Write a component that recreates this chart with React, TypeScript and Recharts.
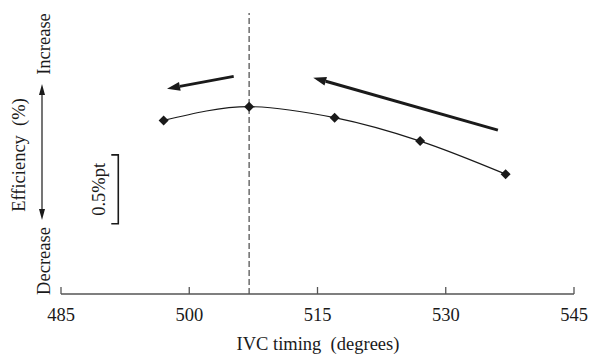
import React from 'react';
import { LineChart, Line, XAxis, YAxis, ReferenceLine } from 'recharts';

// IVC timing sweep, efficiency change relative to the best point (%pt)
const ivcTiming = [497, 507, 517, 527, 537];
const efficiencyDelta = [-0.1, 0, -0.08, -0.25, -0.49];
const xTicks = [485, 500, 515, 530, 545];
const bestTiming = 507;
const scaleBarSize = 0.5;

const data = ivcTiming.map((t, i) => ({ t, eff: efficiencyDelta[i] }));

const FONT = '"Liberation Serif", "Times New Roman", serif';
const FS = 18.5;
const INK = '#1a1a1a';
const AXIS = '#555';

const Diamond = (props: any) => {
  const { cx, cy } = props;
  if (cx == null || cy == null) return null;
  const r = 5;
  return <polygon points={`${cx},${cy - r} ${cx + r},${cy} ${cx},${cy + r} ${cx - r},${cy}`} fill={INK} />;
};

const BottomTick = (props: any) => {
  const { x, y, payload } = props;
  return (
    <g>
      <line x1={x} y1={y} x2={x} y2={y - 7} stroke={AXIS} strokeWidth={1.3} />
      <text x={x} y={y + 27} textAnchor="middle" fontFamily={FONT} fontSize={FS} fill={INK}>
        {payload.value}
      </text>
    </g>
  );
};

// thick trend arrow, head drawn at the second point of the segment
const TrendArrow = (p: any) => {
  const x1 = +p.x1, y1 = +p.y1, x2 = +p.x2, y2 = +p.y2;
  const len = Math.hypot(x2 - x1, y2 - y1) || 1;
  const ux = (x2 - x1) / len, uy = (y2 - y1) / len;
  const head = 13, half = 4.5;
  const bx = x2 - ux * head, by = y2 - uy * head;
  return (
    <g>
      <line x1={x1} y1={y1} x2={bx} y2={by} stroke={INK} strokeWidth={3} />
      <polygon
        points={`${x2},${y2} ${bx - uy * half},${by + ux * half} ${bx + uy * half},${by - ux * half}`}
        fill={INK}
      />
    </g>
  );
};

// vertical scale bracket with its label
const ScaleBar = (p: any) => {
  const x = +p.x1, ya = +p.y1, yb = +p.y2;
  const top = Math.min(ya, yb), bottom = Math.max(ya, yb);
  return (
    <g>
      <path d={`M${x - 7},${top} H${x} V${bottom} H${x - 7}`} fill="none" stroke={INK} strokeWidth={1.6} />
      <text
        transform={`translate(${x - 13},${(top + bottom) / 2}) rotate(-90)`}
        textAnchor="middle"
        fontFamily={FONT}
        fontSize={FS}
        fill={INK}
      >
        {`${scaleBarSize}%pt`}
      </text>
    </g>
  );
};

function SideNotes() {
  const ax = 42;
  return (
    <svg width={595} height={356} style={{ position: 'absolute', left: 0, top: 0, pointerEvents: 'none' }}>
      <g fontFamily={FONT} fontSize={FS} fill={INK}>
        <text transform="translate(50,44) rotate(-90)" textAnchor="middle">Increase</text>
        <text transform="translate(50,261) rotate(-90)" textAnchor="middle">Decrease</text>
        <text transform="translate(25,155) rotate(-90)" textAnchor="middle" style={{ whiteSpace: 'pre' }}>
          {'Efficiency  (%)'}
        </text>
        <text x={318} y={350} textAnchor="middle" style={{ whiteSpace: 'pre' }}>
          {'IVC timing  (degrees)'}
        </text>
      </g>
      <line x1={ax} y1={92} x2={ax} y2={212} stroke={INK} strokeWidth={1.2} />
      <polygon points={`${ax},84 ${ax - 3},95 ${ax + 3},95`} fill={INK} />
      <polygon points={`${ax},220 ${ax - 3},209 ${ax + 3},209`} fill={INK} />
    </svg>
  );
}

export default function App() {
  return (
    <div style={{ position: 'absolute', left: 0, top: 0, width: 595, height: 356, background: '#fff' }}>
      <LineChart width={595} height={356} data={data} margin={{ top: 13, right: 21, left: 61, bottom: 0 }}>
        <XAxis
          dataKey="t"
          type="number"
          domain={[485, 545]}
          ticks={xTicks}
          height={62}
          tickSize={0}
          tickMargin={0}
          tickLine={false}
          axisLine={{ stroke: AXIS, strokeWidth: 1.3 }}
          tick={<BottomTick />}
          interval={0}
        />
        <YAxis
          type="number"
          domain={[-1.36, 0.68]}
          width={0}
          tick={false}
          tickLine={false}
          axisLine={{ stroke: AXIS, strokeWidth: 1.3 }}
        />
        <ReferenceLine x={bestTiming} stroke="#222" strokeWidth={1} strokeDasharray="6 3" />
        <ReferenceLine
          segment={[{ x: 491.7, y: -0.35 }, { x: 491.7, y: -0.35 - scaleBarSize }]}
          shape={<ScaleBar />}
        />
        <ReferenceLine segment={[{ x: 505.2, y: 0.22 }, { x: 497.4, y: 0.13 }]} shape={<TrendArrow />} />
        <ReferenceLine segment={[{ x: 536.1, y: -0.17 }, { x: 514.5, y: 0.21 }]} shape={<TrendArrow />} />
        <Line
          dataKey="eff"
          type="monotone"
          stroke={INK}
          strokeWidth={1.2}
          dot={<Diamond />}
          activeDot={false}
          isAnimationActive={false}
        />
      </LineChart>
      <SideNotes />
    </div>
  );
}
